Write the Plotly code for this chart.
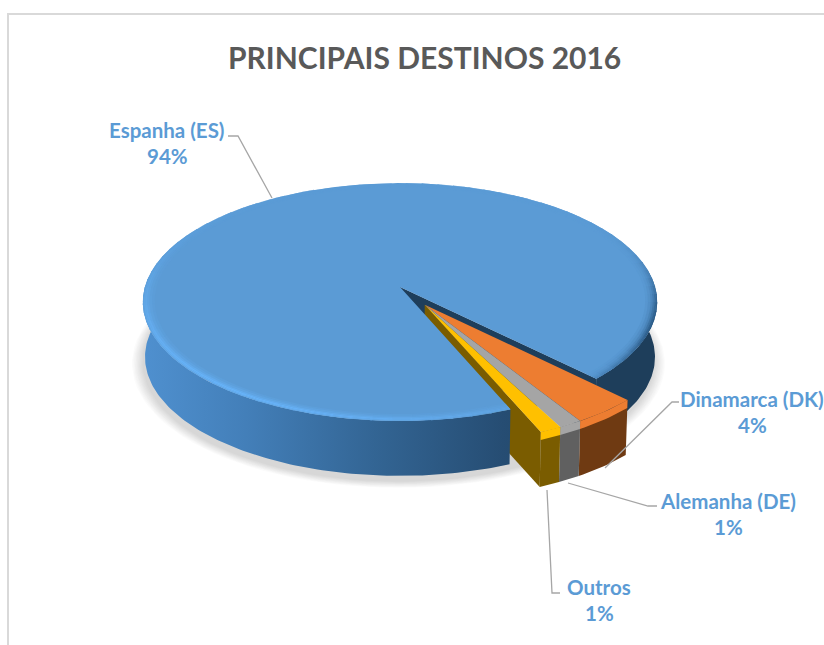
import math
import plotly.graph_objects as go

categories = ["Espanha (ES)", "Dinamarca (DK)", "Alemanha (DE)", "Outros"]
values = [93.9, 3.6, 1.3, 1.2]
title_text = "PRINCIPAIS DESTINOS 2016"

W, H = 824, 645
CX, CY, RX, RY, K = 400.0, 287.0, 255.0, 117.0, 0.126
DEPTH = 55.0
START = 67.5
EXPL = (0.095, 0.148)

def proj(u, v, drop=0.0):
    w = 1 - K * v
    x = CX + RX * u / w
    y = CY + RY * v / w
    if drop:
        x = CX + (x - CX) * (1 - 0.008 * drop / DEPTH)
        y = y + drop
    return x, y

def arc(a0, a1, r=1.0, off=(0, 0), drop=0.0, n=None):
    n = n or max(2, int(abs(a1 - a0) / 1.0))
    pts = []
    for i in range(n + 1):
        t = math.radians(a0 + (a1 - a0) * i / n)
        pts.append(proj(off[0] + r * math.cos(t), off[1] + r * math.sin(t), drop))
    return pts

fig = go.Figure()

def poly(pts, color, grad=None):
    kw = dict(x=[p[0] for p in pts] + [pts[0][0]], y=[p[1] for p in pts] + [pts[0][1]],
              mode="lines", line=dict(width=0), fill="toself", hoverinfo="skip", showlegend=False)
    if grad:
        kw["fillgradient"] = dict(type="horizontal", colorscale=grad, start=143, stop=656)
    else:
        kw["fillcolor"] = color
    fig.add_trace(go.Scatter(**kw))

def hexmix(c1, c2, t):
    t = max(0.0, min(1.0, t))
    a = [int(c1[i:i + 2], 16) for i in (1, 3, 5)]
    b = [int(c2[i:i + 2], 16) for i in (1, 3, 5)]
    return "#%02x%02x%02x" % tuple(round(a[i] + (b[i] - a[i]) * t) for i in range(3))

# angular extents derived from the values
total = sum(values)
edges = [START]
for v in values:
    edges.append(edges[-1] + v / total * 360)
spans = list(zip(edges[:-1], edges[1:]))
blue_a0, blue_a1 = spans[0]

SIDE = [[0, "#4f90cf"], [0.2, "#437fb9"], [0.45, "#336594"], [0.7, "#264d73"], [1, "#1d3c59"]]

# soft shadow
for i in range(10):
    r = 1.0 + 0.0045 * (10 - i)
    pts = arc(0, 360, r, (-0.006, 0.0), DEPTH + 5, 120)
    poly(pts, "rgba(100,100,92,0.022)")

# back (right) part of the blue side wall and radial wall seen in the gap
right_end = blue_a1
poly(arc(-8, right_end - 360) + arc(right_end - 360, -8, drop=DEPTH), "#1e3e5b")
edge_top = [proj(0, 0), proj(math.cos(math.radians(right_end)), math.sin(math.radians(right_end)))]
poly(edge_top + [(edge_top[1][0], edge_top[1][1] + DEPTH), (edge_top[0][0], edge_top[0][1] + DEPTH)], "#1e3e5b")

# exploded slices
slice_cols = {1: ("#ed7d31", "#6f3a12"), 2: ("#a5a5a5", "#606060"), 3: ("#ffc000", "#7a5c00")}
a_last = spans[3][1]
c0 = proj(*EXPL)
c1 = proj(EXPL[0] + math.cos(math.radians(a_last)), EXPL[1] + math.sin(math.radians(a_last)))
c0d = proj(EXPL[0], EXPL[1], DEPTH)
c1d = proj(EXPL[0] + math.cos(math.radians(a_last)), EXPL[1] + math.sin(math.radians(a_last)), DEPTH)
poly([c0, c1, c1d, c0d], slice_cols[3][1])
for i in (1, 2, 3):
    a0, a1 = spans[i]
    poly(arc(a0, a1, off=EXPL) + arc(a1, a0, off=EXPL, drop=DEPTH), slice_cols[i][1])
for i in (1, 2, 3):
    a0, a1 = spans[i]
    poly([proj(*EXPL)] + arc(a0, a1, off=EXPL), slice_cols[i][0])
    # rounded front edge of the top face
    poly(arc(a0, a1, off=EXPL) + arc(a1, a0, off=EXPL, drop=8), slice_cols[i][0])

# front part of the blue body covers the slices' hidden wall
poly(arc(blue_a0, 185) + arc(185, blue_a0, drop=DEPTH), None, SIDE)

# blue top
poly([proj(0, 0)] + arc(blue_a0, blue_a1, n=360), "#5b9bd5")

# bevel bands on the blue rim
def rim_color(t, hi_s, lo_s):
    d = t % 360
    base = "#5b9bd5"
    hi = math.exp(-(((d - 125) / 60) ** 2))
    lo = max(math.exp(-(((d - 18) / 26) ** 2)), math.exp(-(((d - 378) / 26) ** 2)))
    c = hexmix(base, "#68b4fa", hi * hi_s)
    return hexmix(c, "#2b5a86", lo * lo_s)

bands = [(0.955, 0.965, 0.15, 0.08), (0.965, 0.975, 0.35, 0.2), (0.975, 0.983, 0.65, 0.38),
         (0.983, 0.99, 0.95, 0.62), (0.99, 0.996, 0.9, 0.85), (0.996, 1.0, 0.55, 1.0)]
step = 4
a = blue_a0
while a < blue_a1 - 0.01:
    b = min(a + step, blue_a1)
    b2 = b + 0.4 if b < blue_a1 else b
    for r0, r1, hs, ls in bands:
        poly(arc(a, b2, r1 + 0.001, n=4) + arc(b2, a, r0, n=4), rim_color((a + b) / 2, hs, ls))
    a = b

# leader lines
LINE = "#a6a6a6"
leaders = [
    ([228, 238, 272], [136, 136, 198]),
    ([605, 672, 679], [468, 402, 402]),
    ([568, 648, 657], [483, 506, 506]),
    ([547, 552, 560], [490, 593, 593]),
]
for lx, ly in leaders:
    fig.add_trace(go.Scatter(x=lx, y=ly, mode="lines", line=dict(color=LINE, width=1.3),
                             hoverinfo="skip", showlegend=False))

# labels
label_pos = [(167, 130), (752, 399), (728, 501), (599, 587)]
FONT = "Lato"
for name, v, (lx, ly) in zip(categories, values, label_pos):
    for txt, yy in ((name, ly), (f"{round(v)}%", ly + 26)):
        fig.add_annotation(x=lx, y=yy, text=f"<b>{txt}</b>", showarrow=False, xanchor="center",
                           yanchor="middle", font=dict(family=FONT, size=20.5, color="#5b9bd5"))

fig.add_annotation(x=424, y=57, text=f"<b>{title_text}</b>", showarrow=False, xanchor="center",
                   yanchor="middle", font=dict(family=FONT, size=30, color="#595959"))

# chart frame
fig.add_shape(type="path", path="M 8 645 L 8 14 L 824 14", line=dict(color="#d9d9d9", width=2))

fig.update_layout(
    width=W, height=H, margin=dict(l=0, r=0, t=0, b=0), paper_bgcolor="white", plot_bgcolor="white",
    xaxis=dict(range=[0, W], visible=False, fixedrange=True),
    yaxis=dict(range=[H, 0], visible=False, fixedrange=True),
    showlegend=False,
)
fig.write_html("out.html", config={"displayModeBar": False},
               post_script="document.body.style.margin='0';document.documentElement.style.overflow='hidden';")
